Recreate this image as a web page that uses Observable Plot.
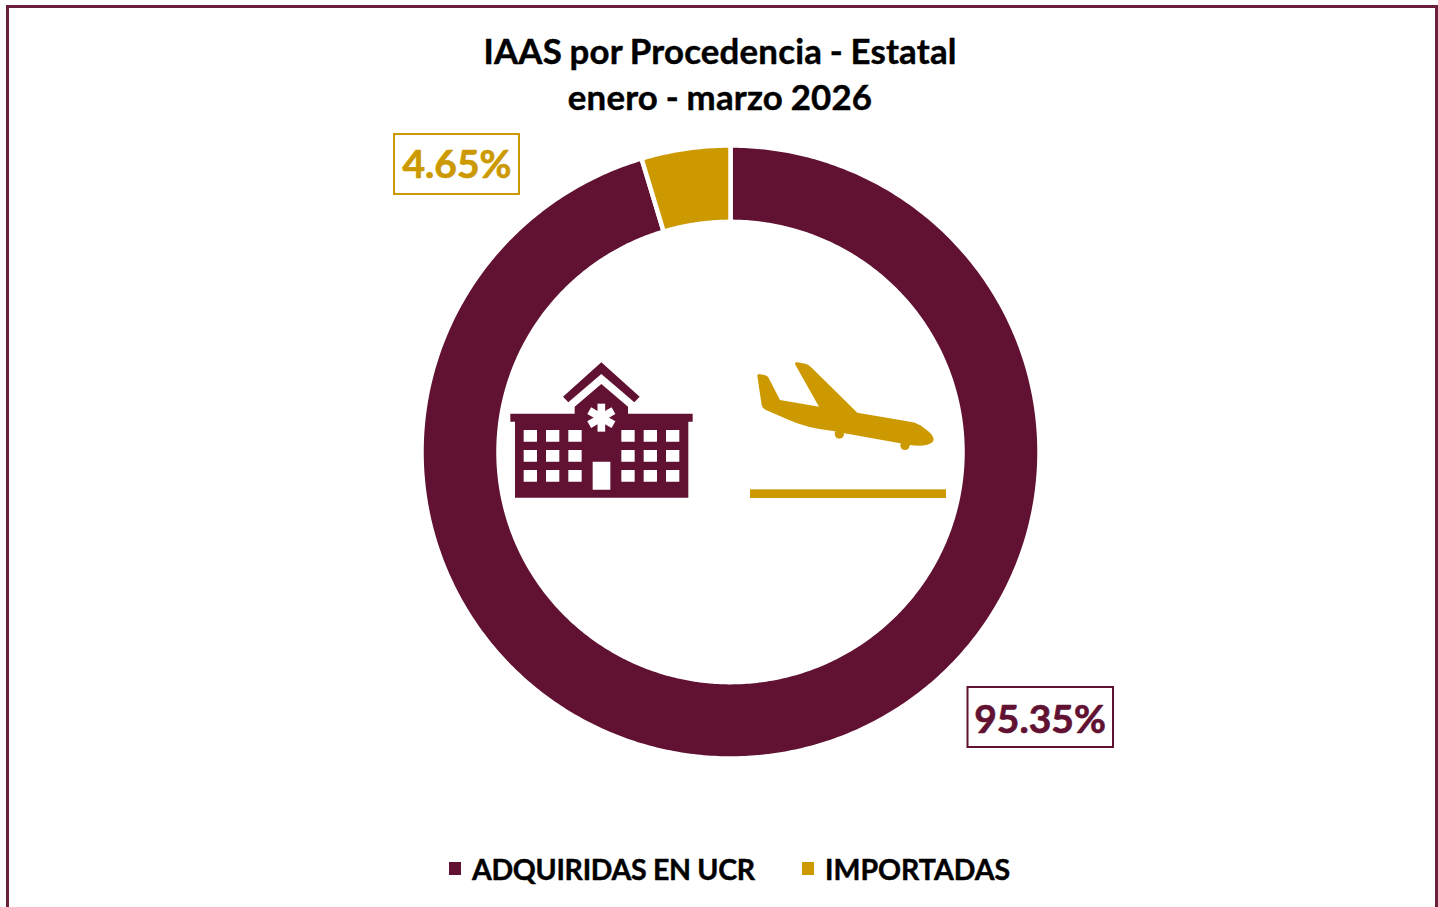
<!DOCTYPE html>
<html lang="es">
<head>
<meta charset="utf-8">
<script src="https://cdn.jsdelivr.net/npm/d3@7"></script>
<script src="https://cdn.jsdelivr.net/npm/@observablehq/plot@0.6"></script>
<style>
  html, body { margin: 0; padding: 0; background: #fff; overflow: hidden; }
  #page { position: relative; width: 1438px; height: 907px; overflow: hidden; font-family: Lato, sans-serif; font-weight: 700; color: #000; }
  #frame { position: absolute; left: 6px; top: 5px; width: 1426px; height: 1000px; border: 3px solid #6a1f3d; box-sizing: content-box; }
  #title { position: absolute; left: 0; width: 1440px; top: 28px; text-align: center; font-size: 34.8px; line-height: 46px; word-spacing: -1px; letter-spacing: 0.2px; -webkit-text-stroke: 0.45px #000; }
  #chart { position: absolute; left: 0; top: 120px; }
  #chart svg { display: block; }
  .lg { position: absolute; top: 850px; font-size: 28.5px; line-height: 38px; white-space: nowrap; -webkit-text-stroke: 0.45px #000; }
  .sw { position: absolute; top: 862px; width: 12px; height: 13px; }
</style>
</head>
<body>
<div id="page">
  <div id="frame"></div>
  <div id="title"></div>
  <div id="chart"></div>
</div>
<script>
const titleLines = ["IAAS por Procedencia - Estatal", "enero - marzo 2026"];
const categories = ["ADQUIRIDAS EN UCR", "IMPORTADAS"];
const shares = [95.35, 4.65];
const palette = ["#611232", "#CC9A00"];

// layout (pixels in the page)
const W = 1438, H = 650, TOP = 120;
const CX = 730, CY = 451.5, R_OUT = 309, R_IN = 232, SQUASH = 0.992;
const labelBoxes = [
  {x1: 967.5, x2: 1113, tx: 1039.5, y1: 687, y2: 747, ty: 720},
  {x1: 394, x2: 519, tx: 456.5, y1: 134, y2: 194, ty: 165}
];
const legendX = [{sw: 449, tx: 472, ls: -0.3}, {sw: 802, tx: 825, ls: 0}];

const toX = px => (px - CX) / R_OUT;
const toY = py => (CY - py) / (R_OUT * SQUASH);

const pie = d3.pie().sort(null).value(d => d.value)(categories.map((name, i) => ({name, value: shares[i]})));
const ring = pie.flatMap(a => {
  const n = Math.max(2, Math.ceil((a.endAngle - a.startAngle) * 90));
  const ts = d3.range(n + 1).map(k => a.startAngle + (a.endAngle - a.startAngle) * k / n);
  const pts = [...ts.map(t => [t, 1]), ...ts.slice().reverse().map(t => [t, R_IN / R_OUT])];
  return pts.map(([t, r]) => ({name: a.data.name, x: r * Math.sin(t), y: r * Math.cos(t)}));
});
const labels = categories.map((name, i) => ({
  name, text: shares[i].toFixed(2) + "%",
  x1: toX(labelBoxes[i].x1), x2: toX(labelBoxes[i].x2),
  y1: toY(labelBoxes[i].y1), y2: toY(labelBoxes[i].y2),
  cx: toX(labelBoxes[i].tx),
  cy: toY(labelBoxes[i].ty)
}));

function icons() {
  const g = d3.create("svg:g");
  // hospital
  const h = g.append("g").attr("transform", `translate(500,${350 - TOP}) scale(${1/3})`);
  const cols = [71, 138, 205, 364, 431, 498], rows = [240, 300, 360];
  let holes = "";
  for (const r of rows) for (const c of cols) holes += `M${c},${r}h40v35h-40z`;
  holes += "M278,335h53v84h-53z";
  h.append("path").attr("fill", palette[0]).attr("fill-rule", "evenodd")
    .attr("d", "M189,140L205,157L304,72L403,157L419,140L304,37Z" +
      "M31,191H224V170L304,102L384,170V191H578V215H565V443H45V215H31Z" + holes);
  for (const a of [0, 60, 120]) {
    h.append("line").attr("x1", 304).attr("x2", 304).attr("y1", 161).attr("y2", 245)
      .attr("stroke", "#fff").attr("stroke-width", 23)
      .attr("transform", `rotate(${a} 304 203)`);
  }
  // plane
  const p = g.append("g").attr("transform", `translate(740,${350 - TOP}) scale(${1/3})`).attr("fill", palette[1]);
  p.append("path").attr("d",
    "M52,78Q51,72 58,72L76,76Q84,78 88,88L120,150L237,170L166,44Q163,36 172,37L196,41Q205,43 215,53L352,188L515,216Q535,220 552,234Q578,252 581,266Q582,279 560,285Q538,289 510,285L313,250L280,243Q200,235 140,207L76,179Q66,174 65,165Z");
  p.append("circle").attr("cx", 298).attr("cy", 252).attr("r", 14);
  p.append("circle").attr("cx", 495).attr("cy", 286).attr("r", 14);
  p.append("rect").attr("x", 30).attr("y", 418).attr("width", 588).attr("height", 26);
  return g.node();
}

const chart = Plot.plot({
  width: W, height: H,
  margin: 0,
  style: {background: "transparent", fontFamily: "Lato, sans-serif"},
  x: {domain: [toX(0), toX(W)], range: [0, W], axis: null},
  y: {domain: [toY(TOP), toY(TOP + H)], range: [0, H], axis: null},
  color: {domain: categories, range: palette},
  marks: [
    Plot.line(ring, {x: "x", y: "y", z: "name", fill: "name", stroke: "#fff", strokeWidth: 4.5, curve: "linear-closed"}),
    Plot.rect(labels, {x1: "x1", x2: "x2", y1: "y1", y2: "y2", fill: "#fff", stroke: "name", strokeWidth: 2}),
    Plot.text(labels, {x: "cx", y: "cy", text: "text", fill: "name", stroke: "name", strokeWidth: 0.7, fontSize: 39, fontWeight: 700}),
    icons
  ]
});
document.getElementById("chart").append(chart);
document.getElementById("title").innerHTML = titleLines.join("<br>");

const page = document.getElementById("page");
categories.forEach((name, i) => {
  const s = document.createElement("div");
  s.className = "sw"; s.style.left = legendX[i].sw + "px"; s.style.background = palette[i];
  page.append(s);
  const t = document.createElement("div");
  t.className = "lg"; t.style.left = legendX[i].tx + "px"; t.style.letterSpacing = legendX[i].ls + "px"; t.textContent = name;
  page.append(t);
});
</script>
</body>
</html>
